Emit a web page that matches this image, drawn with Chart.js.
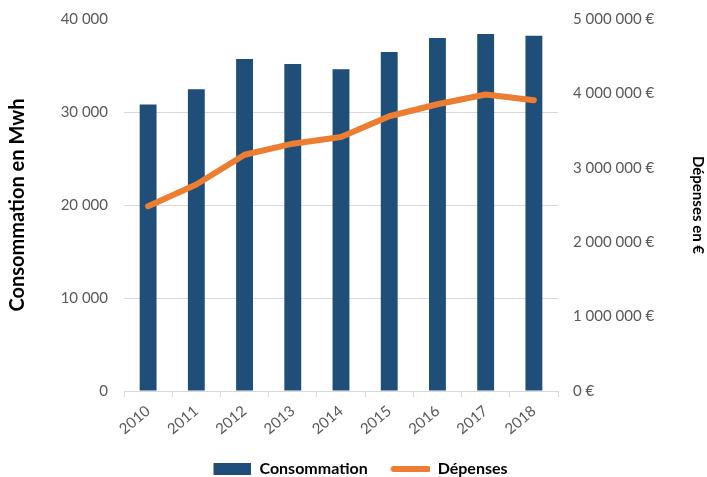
<!DOCTYPE html>
<html>
<head>
<meta charset="utf-8">
<script src="https://cdn.jsdelivr.net/npm/chart.js@4.4.0/dist/chart.umd.min.js"></script>
<style>
  html, body { margin: 0; padding: 0; background: #fff; }
  #wrap { width: 707px; height: 477px; }
</style>
</head>
<body>
<div id="wrap"><canvas id="myChart" width="707" height="477"></canvas></div>
<script>
const years = ['2010', '2011', '2012', '2013', '2014', '2015', '2016', '2017', '2018'];
const consommation = [30800, 32450, 35700, 35150, 34600, 36450, 37950, 38400, 38200];
const depenses = [2484000, 2776000, 3176000, 3324000, 3414000, 3693000, 3854000, 3985000, 3908000];
const seriesNames = ['Consommation', 'Dépenses'];
const axisTitles = ['Consommation en Mwh', 'Dépenses en €'];

const navy = '#1F4E79';
const orange = '#ED7D31';
const tickGrey = '#595959';
const gridGrey = '#D9D9D9';

function fmt(v) {
    return String(v).replace(/\B(?=(\d{3})+(?!\d))/g, ' ');
}

// little pictures for the legend (blank on the left gives the gap between items)
function legendImg(kind) {
    const c = document.createElement('canvas');
    c.width = 52; c.height = 12;
    const g = c.getContext('2d');
    if (kind === 'bar') {
        g.fillStyle = navy;
        g.fillRect(14, 0, 38, 12);
    } else {
        g.strokeStyle = orange;
        g.lineWidth = 6;
        g.lineCap = 'round';
        g.beginPath();
        g.moveTo(16, 6);
        g.lineTo(50, 6);
        g.stroke();
    }
    return c;
}
const barImg = legendImg('bar');
const lineImg = legendImg('line');

// fixed widths for the side axes, no extra room above/below the plot
function fixSide(w) {
    return function (scale) {
        scale.width = w;
        scale.paddingTop = 0;
        scale.paddingBottom = 0;
    };
}

const ctx = document.getElementById('myChart').getContext('2d');
window.myChart = new Chart(ctx, {
    type: 'bar',
    data: {
        labels: years,
        datasets: [{
            type: 'line',
            label: seriesNames[1],
            data: depenses,
            yAxisID: 'y1',
            borderColor: orange,
            backgroundColor: orange,
            borderWidth: 6,
            borderCapStyle: 'round',
            borderJoinStyle: 'round',
            pointRadius: 0,
            tension: 0,
            order: 0
        }, {
            type: 'bar',
            label: seriesNames[0],
            data: consommation,
            yAxisID: 'y',
            backgroundColor: navy,
            borderWidth: 0,
            barPercentage: 0.35,
            categoryPercentage: 1,
            order: 1
        }]
    },
    options: {
        responsive: false,
        animation: false,
        layout: { padding: { top: 19, left: 0, right: 0, bottom: -10 } },
        plugins: {
            tooltip: { enabled: false },
            legend: {
                position: 'bottom',
                labels: {
                    usePointStyle: true,
                    pointStyleWidth: 52,
                    padding: 10,
                    color: '#000',
                    font: { family: 'Lato', size: 16, weight: 'bold' },
                    generateLabels: function () {
                        return [
                            { text: seriesNames[0], pointStyle: barImg, fillStyle: navy, strokeStyle: navy, lineWidth: 0, hidden: false, datasetIndex: 1 },
                            { text: seriesNames[1], pointStyle: lineImg, fillStyle: orange, strokeStyle: orange, lineWidth: 0, hidden: false, datasetIndex: 0 }
                        ];
                    }
                }
            }
        },
        scales: {
            x: {
                offset: true,
                grid: {
                    display: true,
                    offset: true,
                    drawOnChartArea: false,
                    drawTicks: true,
                    tickLength: 6,
                    color: gridGrey
                },
                border: { display: true, color: gridGrey },
                ticks: {
                    color: tickGrey,
                    font: { family: 'Lato', size: 15 },
                    minRotation: 40,
                    maxRotation: 40,
                    padding: 5
                },
                afterFit: function (scale) { scale.height = 60; }
            },
            y: {
                position: 'left',
                min: 0,
                max: 40000,
                ticks: {
                    stepSize: 10000,
                    color: tickGrey,
                    font: { family: 'Lato', size: 15 },
                    padding: 16,
                    callback: v => fmt(v)
                },
                grid: {
                    drawTicks: false,
                    color: c => (c.tick && c.tick.value === 40000) ? 'rgba(0,0,0,0)' : gridGrey
                },
                border: { display: false },
                title: {
                    display: true,
                    text: axisTitles[0],
                    color: '#000',
                    font: { family: 'Lato', size: 20, weight: 'bold' },
                    padding: { top: 6, bottom: 0 }
                },
                afterFit: fixSide(124)
            },
            y1: {
                position: 'right',
                min: 0,
                max: 5000000,
                ticks: {
                    stepSize: 1000000,
                    color: tickGrey,
                    font: { family: 'Lato', size: 15 },
                    padding: 15,
                    callback: v => fmt(v) + ' €'
                },
                grid: { display: false, drawTicks: false },
                border: { display: false },
                title: {
                    display: true,
                    text: axisTitles[1],
                    color: '#000',
                    font: { family: 'Lato', size: 15, weight: 'bold' },
                    padding: { top: 0, bottom: 0 }
                },
                afterFit: fixSide(149)
            }
        }
    }
});
</script>
</body>
</html>
